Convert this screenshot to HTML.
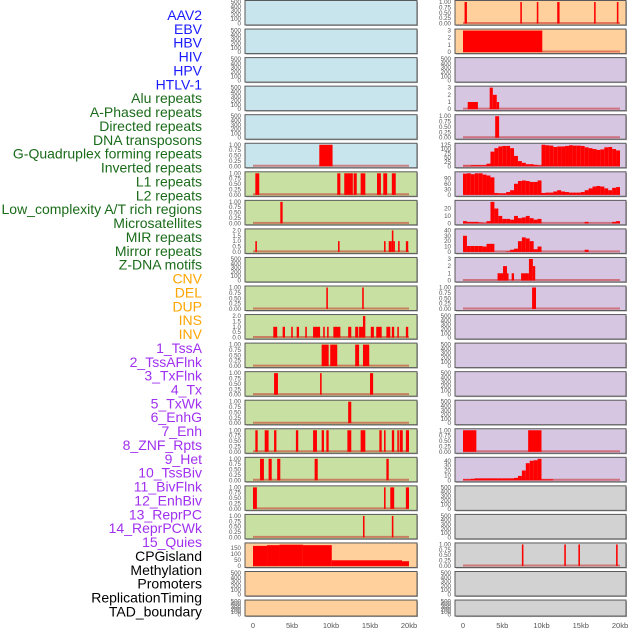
<!DOCTYPE html>
<html><head><meta charset="utf-8"><style>
html,body{margin:0;padding:0;background:#fff;width:630px;height:630px;overflow:hidden}
svg{display:block}
</style></head><body>
<svg id="chart" width="630" height="630" viewBox="0 0 630 630" xmlns="http://www.w3.org/2000/svg"></svg>
<script>
// ---- data ----
const panelNames = ["AAV2","EBV","HBV","HIV","HPV","HTLV-1","Alu repeats","A-Phased repeats","Directed repeats","DNA transposons","G-Quadruplex forming repeats","Inverted repeats","L1 repeats","L2 repeats","Low_complexity A/T rich regions","Microsatellites","MIR repeats","Mirror repeats","Z-DNA motifs","CNV","DEL","DUP","INS","INV","1_TssA","2_TssAFlnk","3_TxFlnk","4_Tx","5_TxWk","6_EnhG","7_Enh","8_ZNF_Rpts","9_Het","10_TssBiv","11_BivFlnk","12_EnhBiv","13_ReprPC","14_ReprPCWk","15_Quies","CPGisland","Methylation","Promoters","ReplicationTiming","TAD_boundary"];
const labelColors = ["#1a1aff","#1a1aff","#1a1aff","#1a1aff","#1a1aff","#1a1aff","#1a6b1a","#1a6b1a","#1a6b1a","#1a6b1a","#1a6b1a","#1a6b1a","#1a6b1a","#1a6b1a","#1a6b1a","#1a6b1a","#1a6b1a","#1a6b1a","#1a6b1a","#ffa500","#ffa500","#ffa500","#ffa500","#ffa500","#a030f0","#a030f0","#a030f0","#a030f0","#a030f0","#a030f0","#a030f0","#a030f0","#a030f0","#a030f0","#a030f0","#a030f0","#a030f0","#a030f0","#a030f0","#000","#000","#000","#000","#000"];
const panelBg = ["#c8e4ec","#c8e4ec","#c8e4ec","#c8e4ec","#c8e4ec","#c8e4ec","#c8e0a2","#c8e0a2","#c8e0a2","#c8e0a2","#c8e0a2","#c8e0a2","#c8e0a2","#c8e0a2","#c8e0a2","#c8e0a2","#c8e0a2","#c8e0a2","#c8e0a2","#ffd09c","#ffd09c","#ffd09c","#ffd09c","#ffd09c","#d6c6e2","#d6c6e2","#d6c6e2","#d6c6e2","#d6c6e2","#d6c6e2","#d6c6e2","#d6c6e2","#d6c6e2","#d6c6e2","#d6c6e2","#d6c6e2","#d6c6e2","#d6c6e2","#d6c6e2","#d2d2d2","#d2d2d2","#d2d2d2","#d2d2d2","#d2d2d2"];
const T500 = ["0","100","200","300","400","500"];
const T1 = ["0.00","0.25","0.50","0.75","1.00"];
const T2 = ["0.0","0.5","1.0","1.5","2.0"];
const T3 = ["0","1","2","3"];
const panelMax = [500,500,500,500,500,1,1,1,2,500,1,2,1,1,1,1,1,1,1,182,500,500,1,3,500,3,1,125,117,29,40,3,1,500,500,500,500,1,44,500,500,1,500,500];
const panelTicks = [T500,T500,T500,T500,T500,T1,T1,T1,T2,T500,T1,T2,T1,T1,T1,T1,T1,T1,T1,["0","50","100","150"],T500,T500,T1,T3,T500,T3,T1,["0","25","50","75","100","125"],["0","30","60","90"],["0","10","20"],["0","10","20","30","40"],T3,T1,T500,T500,T500,T500,T1,["0","10","20","30","40"],T500,T500,T1,T500,T500];
const hasData = [0,0,0,0,0,1,1,1,1,0,1,1,1,1,1,1,1,1,1,1,0,0,1,1,0,1,1,1,1,1,1,1,1,0,0,0,0,1,1,0,0,1,0,0];
// intervals [startKb, endKb, value]
const segHTLV = [[8.5,10.2,1]];
const segAlu = [[0.3,0.8,1],[10.8,11.2,1],[11.7,12.8,1],[12.9,13.3,1],[13.8,14.4,1],[15.9,16.4,1],[16.7,17.2,1],[17.8,18.3,1]];
const segAPhased = [[3.5,3.8,1]];
const segDirected = [[0.3,0.5,1],[10.9,11.1,1],[16.8,17.0,1],[17.4,17.8,1],[17.8,18.0,2],[18.0,18.1,1],[18.6,18.8,1],[19.6,19.9,1]];
const segGQuad = [[9.4,9.6,1],[14.0,14.2,1]];
const segInverted = [[2.6,3.1,1],[3.8,4.1,1],[4.9,5.1,1],[5.6,5.9,1],[6.7,6.9,1],[7.7,8.6,1],[9.0,9.2,1],[9.5,9.7,1],[10.3,11.2,1],[12.2,12.6,1],[13.1,13.5,1],[13.6,14.1,1],[14.1,14.4,2],[15.1,15.5,1],[15.8,16.5,1],[17.1,17.6,1],[17.8,18.1,1],[18.5,18.7,1],[19.6,19.9,1]];
const segL1 = [[8.8,9.7,1],[9.9,10.8,1],[13.1,13.6,1],[14.1,14.9,1]];
const segL2 = [[2.7,3.2,1],[8.6,8.8,1],[15.0,15.4,1]];
const segLowC = [[12.2,12.6,1]];
const segMicro = [[0.3,0.6,1],[1.5,2.0,1],[2.7,3.0,1],[5.5,5.8,1],[7.7,8.2,1],[8.8,9.1,1],[9.4,9.7,1],[12.1,12.6,1],[13.8,14.4,1],[16.2,16.5,1],[16.8,17.0,1],[17.8,18.1,1],[18.5,18.7,1],[18.8,19.2,1],[19.6,20.0,1]];
const segMIR = [[0.9,1.4,1],[2.0,2.4,1],[3.1,3.5,1],[7.9,8.3,1],[17.1,17.4,1]];
const segMirror = [[0.0,0.5,1],[16.8,17.0,1],[17.6,18.1,1],[19.6,20.0,1]];
const segZDNA = [[14.1,14.3,1],[17.8,18.0,1]];
const segCNV = [[0,1.8,170],[1.8,3.4,176],[3.4,6.4,180],[6.4,10.1,176],[10.1,19.1,48],[19.1,20,40]];
const segINS = [[0.2,0.5,1],[7.3,7.5,1],[9.4,9.6,1],[12.0,12.3,1],[16.7,16.9,1],[19.6,19.8,1]];
const segINV = [[0,10.1,3]];
const segTssAFlnk = [[0.6,1.9,1],[3.4,3.8,3],[3.8,4.3,2],[4.3,4.6,1]];
const segTxFlnk = [[4.1,4.6,1]];
const segZNF = [[4.4,5.1,1],[5.1,5.6,2],[5.6,5.8,1],[6.2,6.5,1],[7.4,8.4,1],[8.4,8.9,3],[8.9,9.2,2]];
const segHet = [[8.8,9.3,1]];
const segReprPCWk = [[0,1.7,1],[8.3,10.0,1]];
const segPromoters = [[7.5,7.7,1],[12.9,13.1,1],[14.7,14.9,1],[19.5,19.7,1]];
// binned profiles, 0.5 kb bins
const binsTx = [3,3,6,6,6,6,15,85,105,115,118,118,105,60,30,20,12,12,8,5,125,122,120,112,115,115,118,122,120,120,118,110,105,100,95,98,110,112,100,92];
const binsTxWk = [115,117,112,117,117,110,105,95,10,8,8,15,25,60,75,78,75,70,70,78,10,12,12,18,25,18,15,12,12,12,15,25,35,45,48,45,35,25,38,42];
const binsEnhG = [3,2,2,2,1,0.5,3,29,20,10,6,6,5,10,7,8,10,7,5,6,0,0,0,0,0,0,0,0,0,0,0,2,0,0,0,0,0,0,2,3];
const binsEnh = [30,11,11,11,11,10,15,15,0,0,0,1,4,6,20,27,25,20,5,10,0,0,0,0,0,0,0,0,0,0,0,4,0,0,0,0,0,0,0,0];
const binsQuies = [2,2,3,4,4,4,4,4,4,4,4,4,4,5,9,20,35,40,41,44,2,2,2,0,0,0,0,0,0,0,0,0,0,0,0,0,0,0,0,0];
const xTickLabels = ["0","5kb","10kb","15kb","20kb"];
const xTickValues = [0,5,10,15,20];

function binsToSegs(b){ return b.map((v,i)=>[i*0.5,(i+1)*0.5,v]); }
const panelSegs = {5:segHTLV,6:segAlu,7:segAPhased,8:segDirected,10:segGQuad,11:segInverted,12:segL1,13:segL2,14:segLowC,15:segMicro,16:segMIR,17:segMirror,18:segZDNA,19:segCNV,22:segINS,23:segINV,25:segTssAFlnk,26:segTxFlnk,27:binsToSegs(binsTx),28:binsToSegs(binsTxWk),29:binsToSegs(binsEnhG),30:binsToSegs(binsEnh),31:segZNF,32:segHet,37:segReprPCWk,38:binsToSegs(binsQuies),41:segPromoters};

// ---- drawing ----
const NS="http://www.w3.org/2000/svg";
const svg=document.getElementById('chart');
function mk(tag,attrs,parent){const e=document.createElementNS(NS,tag);for(const k in attrs)e.setAttribute(k,attrs[k]);(parent||svg).appendChild(e);return e;}
const cols=[{x0:245,x1:417,d0:253,d1:409,tx:241},{x0:455,x1:626,d0:463,d1:620,tx:451}];
function rowTop(r){return 0.5+r*28.55;}
function rowH(r){return r===21?16:24.5;}

// labels
panelNames.forEach((n,i)=>{
  const t=mk('text',{x:202,y:15+i*13.87+5,'text-anchor':'end','font-family':'Liberation Sans, sans-serif','font-size':'14',fill:labelColors[i]});
  t.textContent=n;
  
  
});

panelNames.forEach((n,i)=>{
  const c=cols[Math.floor(i/22)], r=i%22;
  const top=rowTop(r), h=rowH(r);
  const g=mk('g',{});
  
  
  mk('rect',{x:c.x0+1,y:top+1,width:c.x1-c.x0,height:h,fill:'#aaa'},g);
  mk('rect',{x:c.x0,y:top,width:c.x1-c.x0,height:h,fill:panelBg[i],stroke:'#5a5a5a','stroke-width':1},g);
  const max=panelMax[i];
  const yb=top+h-1.5, yt=top+1.5;
  const ys=v=>yb-(v/max)*(yb-yt);
  const xs=k=>c.d0+(k/20)*(c.d1-c.d0);
  // y ticks
  const ticks=panelTicks[i];
  ticks.forEach((lab,j)=>{
    const v=parseFloat(lab);
    const tt=mk('text',{x:c.tx,y:ys(v)+2,'text-anchor':'end','font-family':'Liberation Sans, sans-serif','font-size':'6.2',fill:'#555'},g);
    tt.textContent=lab;
    
    
  });
  if(hasData[i]){
    const base=mk('line',{x1:xs(0),x2:xs(20),y1:yb-0.5,y2:yb-0.5,stroke:'rgba(200,30,30,0.5)','stroke-width':2},g);
    
    
  }
  const segs=panelSegs[i]||[];
  segs.forEach(s=>{
    if(s[2]<=0) return;
    const b=mk('rect',{x:xs(s[0]),y:ys(s[2]),width:Math.max(1.5,xs(s[1])-xs(s[0])),height:yb-ys(s[2]),fill:'#ff0000'},g);
    
    
  });
});

// x axes
cols.forEach((c,ci)=>{
  xTickValues.forEach((v,j)=>{
    const t=mk('text',{x:c.d0+(v/20)*(c.d1-c.d0),y:628,'text-anchor':'middle','font-family':'Liberation Sans, sans-serif','font-size':'7.5',fill:'#555'});
    t.textContent=xTickLabels[j];
    
    
  });
});
</script>
</body></html>
